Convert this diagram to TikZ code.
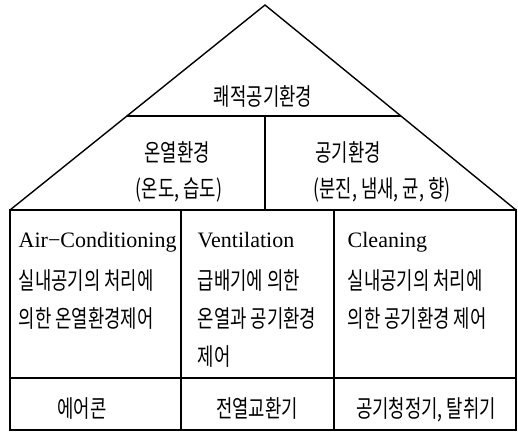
\documentclass[tikz,border=0pt]{standalone}
\usepackage{fontspec}
\setmainfont{Liberation Serif}
\newfontfamily\kr[FakeStretch=0.74]{Noto Sans CJK KR}
\usetikzlibrary{calc}
\begin{document}
\begin{tikzpicture}[x=1pt,y=-1pt,line width=1.4pt,
  ko/.style={font=\kr\fontsize{24}{28}\selectfont,inner sep=0pt,anchor=base},
  kol/.style={ko,anchor=base west},
  la/.style={font=\fontsize{22}{26}\selectfont,inner sep=0pt,anchor=base west}]
\useasboundingbox (0,0) rectangle (518,434);
% roof
\coordinate (A) at (265,5);
\coordinate (BL) at (10,210);
\coordinate (BR) at (516,210);
\coordinate (HL) at ($(A)!0.5415!(BL)$);
\coordinate (HR) at ($(A)!0.5415!(BR)$);
\coordinate (VT) at (265,116);
\coordinate (VB) at (265,210);
\draw (BL) -- (A) -- (BR);
\draw (HL) -- (HR);
\draw (VT) -- (VB);
% table
\coordinate (BX) at (516,430);
\coordinate (C1T) at (181,210);
\coordinate (C1B) at (181,430);
\coordinate (C2T) at (334,210);
\coordinate (C2B) at (334,430);
\coordinate (R1) at (10,378);
\coordinate (R2) at (516,378);
\draw (BL) rectangle (BX);
\draw (C1T) -- (C1B);
\draw (C2T) -- (C2B);
\draw (R1) -- (R2);
% roof texts
\node[ko] (t0) at (263,105) {쾌적공기환경};
\node[ko] (t1) at (177,161) {온열환경};
\node[ko] (t2) at (179,197) {(온도, 습도)};
\node[ko] (t3) at (348,161) {공기환경};
\node[ko] (t4) at (382,197) {(분진, 냄새, 균, 향)};
% column 1
\node[la] (a0) at (18,247) {Air−Conditioning};
\node[kol] (a1) at (18,289) {실내공기의 처리에};
\node[kol] (a2) at (18,327) {의한 온열환경제어};
% column 2
\node[la] (v0) at (197,247) {Ventilation};
\node[kol] (v1) at (197,289) {급배기에 의한};
\node[kol] (v2) at (197,327) {온열과 공기환경};
\node[kol] (v3) at (197,365) {제어};
% column 3
\node[la] (c0) at (347,247) {Cleaning};
\node[kol] (c1) at (347,289) {실내공기의 처리에};
\node[kol] (c2) at (347,327) {의한 공기환경 제어};
% bottom row
\node[ko] (b1) at (82,417) {에어콘};
\node[ko] (b2) at (257,417) {전열교환기};
\node[ko] (b3) at (426,417) {공기청정기, 탈취기};
\end{tikzpicture}
\end{document}
